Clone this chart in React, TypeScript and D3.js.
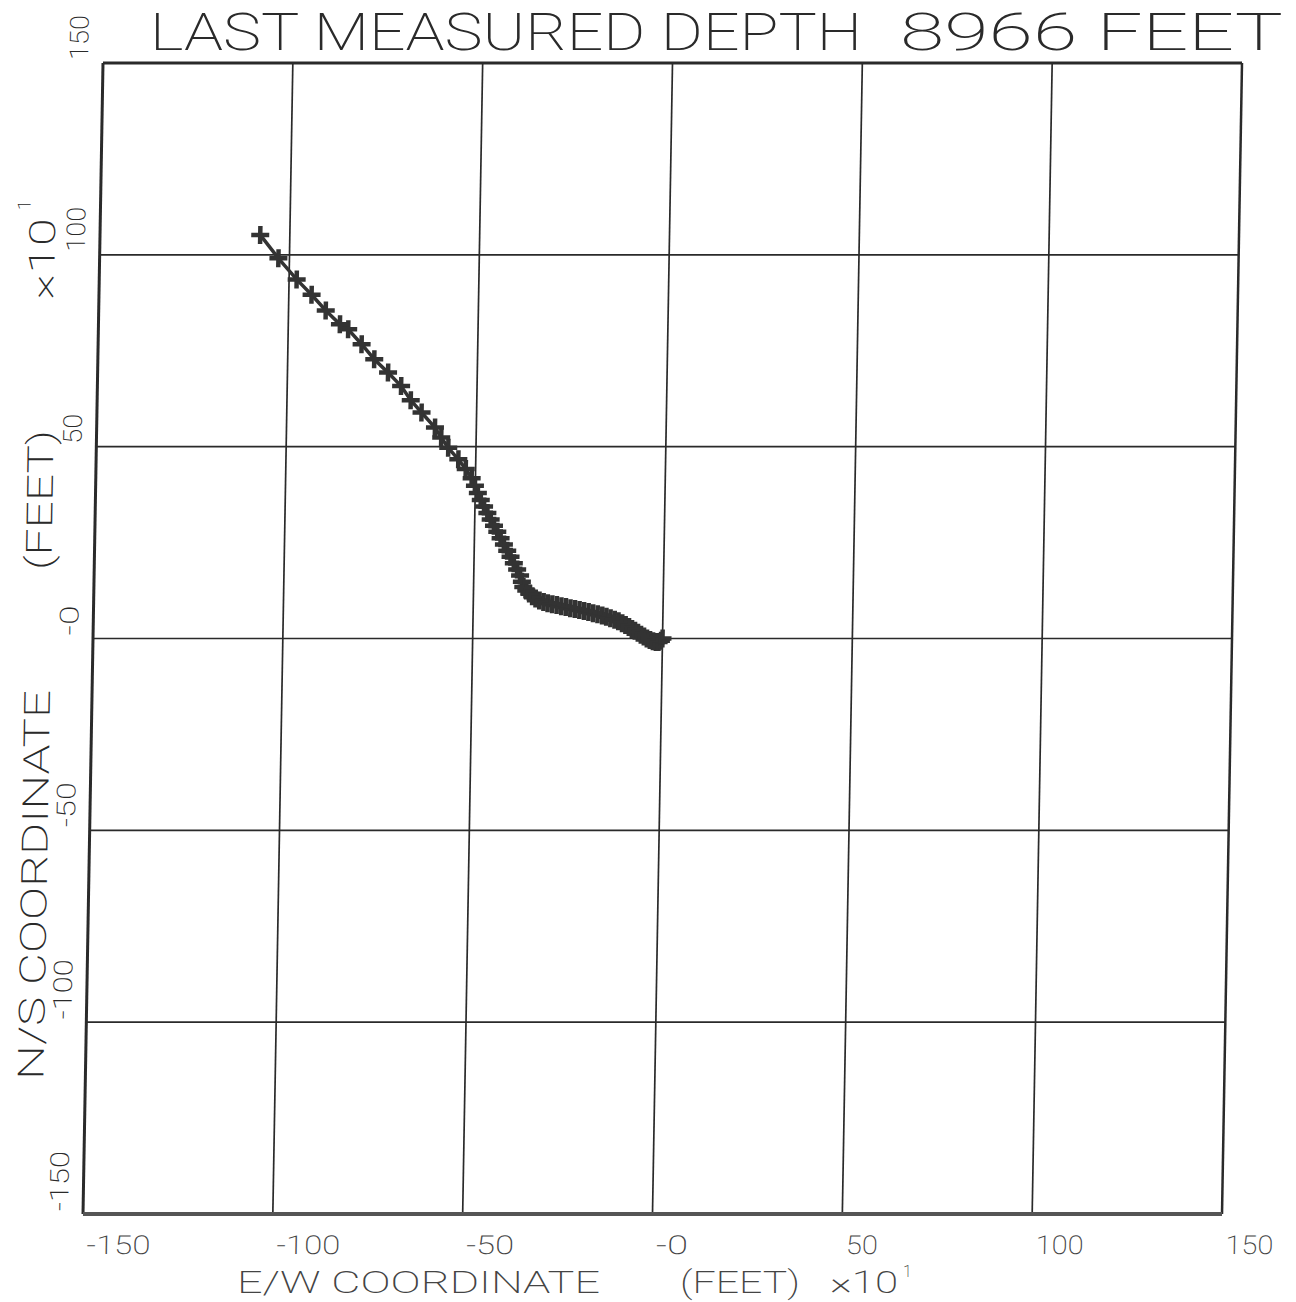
import React from 'react';
import * as d3 from 'd3';

// survey stations, feet x10, from surface (0,0) to last measured depth
const ewCoord = [
  0.0, -0.4, -1.0, -1.7, -2.5, -3.3, -4.1, -4.9, -5.7, -6.5, -7.3, -8.1, -8.9, -9.8, -10.7,
  -11.7, -12.7, -13.8, -14.9, -16.0, -17.2, -18.4, -19.6, -20.8, -22.0, -23.2, -24.4, -25.6,
  -26.8, -28.0, -29.2, -30.4, -31.5, -32.6, -33.6, -34.5, -35.3, -36.1, -36.9,
  -37.3, -37.8, -38.6, -39.5, -40.4, -41.3, -42.2, -43.1, -44.0, -44.9, -45.8, -46.7, -47.6,
  -48.5, -49.3, -50.1, -51.0, -52.6, -54.6, -57.3, -59.2, -60.9, -64.5, -67.4, -70.0, -73.5,
  -77.2, -80.6, -84.2, -86.4, -90.2, -94.0, -98.0, -102.9, -107.8,
];
const nsCoord = [
  0.0, -0.6, -0.9, -0.9, -0.7, -0.4, 0.0, 0.5, 1.0, 1.5, 2.0, 2.5, 3.0, 3.5, 4.0,
  4.5, 4.9, 5.3, 5.7, 6.0, 6.3, 6.6, 6.9, 7.2, 7.4, 7.7, 7.9, 8.2,
  8.4, 8.7, 8.9, 9.2, 9.5, 9.9, 10.4, 11.0, 11.7, 12.5, 13.4,
  14.8, 16.4, 18.0, 19.6, 21.3, 22.9, 24.5, 26.1, 27.8, 29.4, 31.0, 32.7, 34.4,
  36.1, 37.9, 39.8, 41.8, 44.2, 46.7, 49.7, 52.4, 55.0, 58.9, 62.1, 65.8, 69.3,
  72.8, 76.7, 80.6, 81.9, 85.5, 89.6, 93.6, 99.1, 105.2,
];

const ticks = [-150, -100, -50, 0, 50, 100, 150];
const xTickLabels = ['-150', '-100', '-50', '-0', '50', '100', '150'];
const yTickLabels = ['-150', '-100', '-50', '-0', '50', '100', '150'];

const title1 = 'LAST MEASURED DEPTH';
const title2 = '8966 FEET';

const W = 1139;
const H = 1151;
const left = 103;
const top = 63;
const skew = -Math.atan(20 / H) * 180 / Math.PI;
const ink = '#2a2a2a';
const font = 'Roboto, "DejaVu Sans", sans-serif';

export default function App() {
  const x = d3.scaleLinear().domain([-150, 150]).range([0, W]);
  const y = d3.scaleLinear().domain([-150, 150]).range([H, 0]);
  const pts = ewCoord.map((e, i) => [e, nsCoord[i]] as [number, number]);
  const line = d3.line<[number, number]>().x(d => x(d[0])).y(d => y(d[1]));

  return (
    <svg width={1296} height={1302} style={{ position: 'absolute', left: 0, top: 0, background: '#fff' }}>
      {/* title */}
      <text x={150} y={50} fontFamily={font} fontWeight={200} fontSize={52} fill={ink}
        textLength={712} lengthAdjust="spacingAndGlyphs">{title1}</text>
      <text x={900} y={50} fontFamily={font} fontWeight={200} fontSize={52} fill={ink}
        textLength={383} lengthAdjust="spacingAndGlyphs">{title2}</text>

      <g transform={`translate(${left},${top}) skewX(${skew})`}>
        {/* grid */}
        {ticks.slice(1, -1).map(t => (
          <line key={'gx' + t} x1={x(t)} x2={x(t)} y1={0} y2={H} stroke={ink} strokeWidth={1.7} />
        ))}
        {ticks.slice(1, -1).map(t => (
          <line key={'gy' + t} x1={0} x2={W} y1={y(t)} y2={y(t)} stroke={ink} strokeWidth={1.7} />
        ))}
        {/* frame */}
        <line x1={0} x2={W} y1={0} y2={0} stroke={ink} strokeWidth={3} />
        <line x1={0} x2={0} y1={0} y2={H} stroke={ink} strokeWidth={3} />
        <line x1={W} x2={W} y1={0} y2={H} stroke={ink} strokeWidth={2.5} />
        <line x1={0} x2={W} y1={H} y2={H} stroke="#555" strokeWidth={4} />

        {/* x tick labels */}
        {ticks.map((t, i) => (
          <text key={'xl' + t} x={x(t) + 4} y={H + 40} fontFamily={font} fontWeight={200} fontSize={26}
            fill="#444" textLength={xTickLabels[i].length * 16} lengthAdjust="spacingAndGlyphs">
            {xTickLabels[i]}
          </text>
        ))}
        {/* y tick labels */}
        {ticks.map((t, i) => (
          <text key={'yl' + t} transform={`translate(-15,${y(t) - 3}) rotate(-90)`}
            fontFamily={font} fontWeight={200} fontSize={26} fill={ink}
            textLength={yTickLabels[i].length * 15} lengthAdjust="spacingAndGlyphs">
            {yTickLabels[i]}
          </text>
        ))}

        {/* y axis title */}
        <text transform={`translate(-42,${1080 - top}) rotate(-90)`} fontFamily={font} fontWeight={200}
          fontSize={36} fill={ink} textLength={390} lengthAdjust="spacingAndGlyphs">N/S COORDINATE</text>
        <text transform={`translate(-43,${570 - top}) rotate(-90)`} fontFamily={font} fontWeight={200}
          fontSize={36} fill={ink} textLength={140} lengthAdjust="spacingAndGlyphs">(FEET)</text>
        <text transform={`translate(-45,${300 - top}) rotate(-90)`} fontFamily={font} fontWeight={200}
          fontSize={36} fill={ink} textLength={82} lengthAdjust="spacingAndGlyphs">×10</text>
        <text transform={`translate(-70,${210 - top}) rotate(-90)`} fontFamily={font} fontWeight={200}
          fontSize={18} fill={ink}>1</text>

        {/* well path */}
        <path d={line(pts) || ''} fill="none" stroke="#333" strokeWidth={3.5} />
        {pts.map((p, i) => (
          <path key={'m' + i} transform={`translate(${x(p[0])},${y(p[1])})`}
            d="M-9,0H9M0,-9V9" stroke="#333" strokeWidth={4.5} />
        ))}
      </g>

      {/* x axis title */}
      <text x={237} y={1293} fontFamily={font} fontWeight={200} fontSize={32} fill="#444"
        textLength={363} lengthAdjust="spacingAndGlyphs">E/W COORDINATE</text>
      <text x={680} y={1293} fontFamily={font} fontWeight={200} fontSize={32} fill="#444"
        textLength={120} lengthAdjust="spacingAndGlyphs">(FEET)</text>
      <text x={830} y={1293} fontFamily={font} fontWeight={200} fontSize={32} fill="#444"
        textLength={68} lengthAdjust="spacingAndGlyphs">×10</text>
      <text x={903} y={1277} fontFamily={font} fontWeight={200} fontSize={16} fill="#444">1</text>
    </svg>
  );
}
